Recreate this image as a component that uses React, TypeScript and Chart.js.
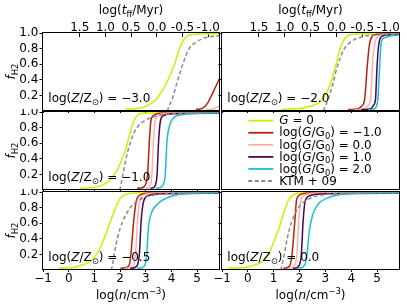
import React, { useEffect, useRef } from 'react';
import { Chart, registerables } from 'chart.js';
Chart.register(...registerables);

const FAMILY = '"DejaVu Sans", "Liberation Sans", sans-serif';
const FS = 12;

const X_MIN = -1;
const X_MAX = 5.85;
const Y_MIN = 0.015;
const Y_MAX = 1.0;
const X_TICKS = [-1, 0, 1, 2, 3, 4, 5];
const Y_TICKS = [0.2, 0.4, 0.6, 0.8, 1.0];
const TFF_TICK_LABELS = ['1.5', '1.0', '0.5', '0.0', '-0.5', '-1.0'];
const TFF_TICK_LOGN = [0.43, 1.43, 2.43, 3.43, 4.43, 5.43];

const SERIES_NAMES = ['G = 0', 'log(G/G0) = −1.0', 'log(G/G0) = 0.0', 'log(G/G0) = 1.0', 'log(G/G0) = 2.0', 'KTM + 09'];
const SERIES_COLORS = ['#cdf000', '#b0260b', '#ffb0ac', '#420a50', '#1cbfd9', '#8a8a8a'];
const LOG_G_VALUES = ['−1.0', '0.0', '1.0', '2.0'];
const Z_VALUES = ['−3.0', '−2.0', '−1.0', '−0.5', '0.0'];

type Pt = [number, number];

// log(Z/Zsun) = -3.0
const ZM3_G0: Pt[] = [[2.2, 0.025], [2.6, 0.032], [2.95, 0.055], [3.2, 0.095], [3.4, 0.15], [3.62, 0.25], [3.82, 0.37], [4.0, 0.5], [4.12, 0.6], [4.28, 0.77], [4.45, 0.9], [4.6, 0.955], [4.8, 0.982], [5.1, 0.988], [5.95, 0.99]];
const ZM3_GM1: Pt[] = [[4.95, 0.022], [5.12, 0.028], [5.27, 0.05], [5.42, 0.11], [5.56, 0.2], [5.7, 0.3], [5.85, 0.4], [5.95, 0.47]];
const ZM3_G00: Pt[] = [[5.35, 0.02], [5.55, 0.025], [5.72, 0.04], [5.85, 0.065], [5.95, 0.085]];
const ZM3_G10: Pt[] = [];
const ZM3_G20: Pt[] = [];
const ZM3_KTM: Pt[] = [[3.84, 0.0], [3.9, 0.06], [4.02, 0.145], [4.21, 0.36], [4.41, 0.57], [4.67, 0.79], [4.99, 0.89], [5.38, 0.945], [5.95, 0.968]];

// log(Z/Zsun) = -2.0
const ZM2_G0: Pt[] = [[1.3, 0.025], [1.8, 0.03], [2.2, 0.045], [2.5, 0.07], [2.72, 0.1], [2.9, 0.16], [3.04, 0.23], [3.21, 0.36], [3.39, 0.57], [3.56, 0.79], [3.72, 0.91], [3.85, 0.96], [4.0, 0.982], [4.3, 0.988], [5.95, 0.99]];
const ZM2_GM1: Pt[] = [[3.88, 0.022], [4.15, 0.026], [4.3, 0.035], [4.42, 0.07], [4.52, 0.15], [4.62, 0.57], [4.71, 0.86], [4.82, 0.96], [4.98, 0.982], [5.3, 0.988], [5.95, 0.99]];
const ZM2_G00: Pt[] = [[4.13, 0.022], [4.4, 0.026], [4.58, 0.04], [4.66, 0.075], [4.75, 0.15], [4.82, 0.57], [4.91, 0.86], [5.03, 0.96], [5.2, 0.98], [5.95, 0.988]];
const ZM2_G10: Pt[] = [[4.39, 0.022], [4.65, 0.026], [4.79, 0.04], [4.86, 0.075], [4.94, 0.15], [5.0, 0.57], [5.07, 0.86], [5.2, 0.96], [5.45, 0.978], [5.95, 0.983]];
const ZM2_G20: Pt[] = [[4.65, 0.022], [4.85, 0.026], [4.94, 0.04], [4.99, 0.075], [5.03, 0.15], [5.1, 0.57], [5.16, 0.88], [5.3, 0.94], [5.55, 0.965], [5.95, 0.975]];
const ZM2_KTM: Pt[] = [[2.93, 0.0], [2.98, 0.05], [3.1, 0.145], [3.3, 0.36], [3.46, 0.57], [3.72, 0.79], [4.0, 0.89], [4.39, 0.95], [4.91, 0.975], [5.95, 0.985]];

// log(Z/Zsun) = -1.0
const ZM1_G0: Pt[] = [[0.45, 0.025], [0.8, 0.03], [1.1, 0.042], [1.35, 0.07], [1.55, 0.115], [1.75, 0.19], [1.94, 0.29], [2.08, 0.4], [2.2, 0.5], [2.37, 0.71], [2.53, 0.885], [2.65, 0.95], [2.79, 0.98], [3.1, 0.988], [5.95, 0.99]];
const ZM1_GM1: Pt[] = [[2.66, 0.025], [2.85, 0.03], [2.95, 0.05], [3.0, 0.08], [3.07, 0.2], [3.14, 0.63], [3.2, 0.885], [3.3, 0.955], [3.45, 0.978], [3.65, 0.988], [5.95, 0.99]];
const ZM1_G00: Pt[] = [[2.95, 0.025], [3.08, 0.03], [3.15, 0.05], [3.19, 0.08], [3.24, 0.2], [3.3, 0.63], [3.37, 0.885], [3.48, 0.955], [3.65, 0.978], [3.9, 0.986], [5.95, 0.99]];
const ZM1_G10: Pt[] = [[3.18, 0.025], [3.3, 0.03], [3.35, 0.05], [3.39, 0.08], [3.44, 0.2], [3.5, 0.63], [3.57, 0.885], [3.69, 0.955], [4.08, 0.978], [5.95, 0.985]];
const ZM1_G20: Pt[] = [[3.4, 0.025], [3.55, 0.03], [3.63, 0.05], [3.69, 0.08], [3.76, 0.2], [3.82, 0.6], [3.93, 0.83], [4.08, 0.925], [4.47, 0.968], [5.12, 0.985], [5.95, 0.99]];
const ZM1_KTM: Pt[] = [[1.99, 0.0], [2.04, 0.08], [2.11, 0.2], [2.24, 0.415], [2.42, 0.63], [2.66, 0.8], [3.05, 0.905], [3.44, 0.95], [3.95, 0.975], [5.95, 0.988]];

// log(Z/Zsun) = -0.5
const ZM05_G0: Pt[] = [[-0.39, 0.025], [0.0, 0.03], [0.32, 0.045], [0.6, 0.075], [0.84, 0.115], [1.05, 0.19], [1.23, 0.29], [1.37, 0.4], [1.49, 0.5], [1.72, 0.71], [1.94, 0.885], [2.1, 0.95], [2.33, 0.98], [2.6, 0.988], [5.95, 0.99]];
const ZM05_GM1: Pt[] = [[2.01, 0.025], [2.2, 0.03], [2.32, 0.05], [2.37, 0.08], [2.42, 0.2], [2.53, 0.63], [2.63, 0.885], [2.75, 0.955], [2.95, 0.98], [3.2, 0.988], [5.95, 0.99]];
const ZM05_G00: Pt[] = [[2.2, 0.025], [2.4, 0.03], [2.5, 0.05], [2.55, 0.08], [2.6, 0.2], [2.68, 0.63], [2.76, 0.885], [2.88, 0.955], [3.1, 0.978], [3.4, 0.986], [5.95, 0.99]];
const ZM05_G10: Pt[] = [[2.4, 0.025], [2.56, 0.03], [2.64, 0.05], [2.69, 0.08], [2.75, 0.2], [2.82, 0.63], [2.92, 0.885], [3.11, 0.955], [3.69, 0.978], [5.95, 0.985]];
const ZM05_G20: Pt[] = [[2.66, 0.025], [2.85, 0.03], [2.93, 0.05], [2.98, 0.08], [3.04, 0.2], [3.09, 0.5], [3.2, 0.71], [3.44, 0.84], [3.82, 0.925], [4.34, 0.97], [4.99, 0.986], [5.95, 0.99]];
const ZM05_KTM: Pt[] = [[1.66, 0.0], [1.71, 0.08], [1.77, 0.2], [1.9, 0.415], [2.11, 0.63], [2.4, 0.8], [2.79, 0.905], [3.3, 0.96], [4.0, 0.98], [5.95, 0.988]];

// log(Z/Zsun) = 0.0
const Z00_G0: Pt[] = [[-0.76, 0.025], [-0.3, 0.03], [0.02, 0.045], [0.35, 0.075], [0.59, 0.115], [0.78, 0.19], [0.92, 0.29], [1.05, 0.4], [1.17, 0.5], [1.37, 0.71], [1.56, 0.885], [1.7, 0.95], [1.88, 0.98], [2.2, 0.988], [5.95, 0.99]];
const Z00_GM1: Pt[] = [[1.37, 0.025], [1.52, 0.03], [1.6, 0.05], [1.65, 0.08], [1.71, 0.2], [1.82, 0.63], [1.88, 0.885], [1.98, 0.955], [2.15, 0.98], [2.4, 0.988], [5.95, 0.99]];
const Z00_G00: Pt[] = [[1.56, 0.025], [1.7, 0.03], [1.78, 0.05], [1.84, 0.08], [1.9, 0.2], [1.97, 0.63], [2.05, 0.885], [2.17, 0.955], [2.4, 0.978], [2.7, 0.986], [5.95, 0.99]];
const Z00_G10: Pt[] = [[1.75, 0.025], [1.9, 0.03], [1.96, 0.05], [2.01, 0.08], [2.07, 0.2], [2.14, 0.63], [2.22, 0.885], [2.42, 0.955], [3.1, 0.978], [5.95, 0.985]];
const Z00_G20: Pt[] = [[1.95, 0.025], [2.08, 0.03], [2.16, 0.05], [2.22, 0.08], [2.29, 0.2], [2.38, 0.5], [2.51, 0.71], [2.71, 0.84], [3.09, 0.925], [3.61, 0.97], [4.38, 0.986], [5.95, 0.99]];
const Z00_KTM: Pt[] = [[1.28, 0.0], [1.33, 0.08], [1.41, 0.2], [1.53, 0.415], [1.71, 0.63], [1.95, 0.8], [2.33, 0.905], [2.85, 0.96], [3.75, 0.982], [5.95, 0.988]];

type PanelSpec = { z?: string; row: number; col: number; series?: Pt[][]; legend?: boolean };
const PANELS: PanelSpec[] = [
  { z: Z_VALUES[0], row: 0, col: 0, series: [ZM3_G0, ZM3_GM1, ZM3_G00, ZM3_G10, ZM3_G20, ZM3_KTM] },
  { z: Z_VALUES[1], row: 0, col: 1, series: [ZM2_G0, ZM2_GM1, ZM2_G00, ZM2_G10, ZM2_G20, ZM2_KTM] },
  { z: Z_VALUES[2], row: 1, col: 0, series: [ZM1_G0, ZM1_GM1, ZM1_G00, ZM1_G10, ZM1_G20, ZM1_KTM] },
  { row: 1, col: 1, legend: true },
  { z: Z_VALUES[3], row: 2, col: 0, series: [ZM05_G0, ZM05_GM1, ZM05_G00, ZM05_G10, ZM05_G20, ZM05_KTM] },
  { z: Z_VALUES[4], row: 2, col: 1, series: [Z00_G0, Z00_GM1, Z00_G00, Z00_G10, Z00_G20, Z00_KTM] },
];

const COLS = [
  { left: 0, width: 221, axisW: 43, padR: 2 },
  { left: 208, width: 199, axisW: 14, padR: 8 },
];
const ROWS = [
  { top: 0, height: 113, padT: 0, topAxisH: 33, bottomAxisH: 3 },
  { top: 109, height: 83, padT: 3, topAxisH: 0, bottomAxisH: 3 },
  { top: 189, height: 116, padT: 3, topAxisH: 0, bottomAxisH: 36 },
];

type Seg = { t: string; i?: boolean; b?: boolean; p?: boolean };
function segFont(s: Seg, size: number) {
  const sz = s.b || s.p ? size * 0.7 : size;
  return `${s.i ? 'italic ' : ''}${sz}px ${FAMILY}`;
}
function richWidth(ctx: CanvasRenderingContext2D, segs: Seg[], size: number) {
  let w = 0;
  for (const s of segs) {
    ctx.font = segFont(s, size);
    w += ctx.measureText(s.t).width;
  }
  return w;
}
function drawRich(ctx: CanvasRenderingContext2D, segs: Seg[], x: number, yMid: number, size: number, align: 'left' | 'center') {
  const w = richWidth(ctx, segs, size);
  let cx = align === 'center' ? x - w / 2 : x;
  const base = yMid + 0.36 * size;
  ctx.textBaseline = 'alphabetic';
  ctx.textAlign = 'left';
  ctx.fillStyle = '#000';
  for (const s of segs) {
    ctx.font = segFont(s, size);
    const dy = s.b ? 0.24 * size : s.p ? -0.42 * size : 0;
    ctx.fillText(s.t, cx, base + dy);
    cx += ctx.measureText(s.t).width;
  }
}

const LEGEND_SEGS: Seg[][] = [
  [{ t: 'G', i: true }, { t: ' = 0' }],
  ...LOG_G_VALUES.map((v) => [{ t: 'log(' }, { t: 'G', i: true }, { t: '/G' }, { t: '0', b: true }, { t: ') = ' + v }] as Seg[]),
  [{ t: 'KTM + 09' }],
];

function makeDecor(spec: PanelSpec) {
  return {
    id: 'decor',
    afterDraw(chart: any) {
      const ctx: CanvasRenderingContext2D = chart.ctx;
      const a = chart.chartArea;
      ctx.save();
      ctx.strokeStyle = '#000';
      ctx.lineWidth = 1;
      ctx.setLineDash([]);
      ctx.strokeRect(a.left - 0.5, a.top - 0.5, a.right - a.left + 1, a.bottom - a.top + 1);
      if (spec.legend) {
        for (let i = 0; i < LEGEND_SEGS.length; i++) {
          const y = a.top + 8.7 + i * 12.06;
          ctx.strokeStyle = SERIES_COLORS[i];
          ctx.lineWidth = 1.8;
          ctx.setLineDash(i === 5 ? [4, 2.5] : []);
          ctx.beginPath();
          ctx.moveTo(a.left + 26.3, y);
          ctx.lineTo(a.left + 51.3, y);
          ctx.stroke();
          ctx.setLineDash([]);
          drawRich(ctx, LEGEND_SEGS[i], a.left + 57.3, y - 0.6, FS, 'left');
        }
      } else {
        drawRich(
          ctx,
          [{ t: 'log(' }, { t: 'Z', i: true }, { t: '/Z' }, { t: '⊙', b: true }, { t: ') = ' + spec.z }],
          a.left + 5.3,
          a.bottom - 12.5,
          FS,
          'left'
        );
        const cxm = (a.left + a.right) / 2;
        if (spec.row === 0) {
          drawRich(ctx, [{ t: 'log(' }, { t: 't', i: true }, { t: 'ff', b: true }, { t: '/Myr)' }], cxm, 10, FS, 'center');
        }
        if (spec.row === 2) {
          drawRich(ctx, [{ t: 'log(' }, { t: 'n', i: true }, { t: '/cm' }, { t: '−3', p: true }, { t: ')' }], cxm, 106, FS, 'center');
        }
        if (spec.col === 0) {
          ctx.save();
          ctx.translate(11, (a.top + a.bottom) / 2);
          ctx.rotate(-Math.PI / 2);
          drawRich(ctx, [{ t: 'f', i: true }, { t: 'H2', b: true }], 0, 0, FS, 'center');
          ctx.restore();
        }
      }
      ctx.restore();
    },
  };
}

function buildConfig(spec: PanelSpec): any {
  const col = COLS[spec.col];
  const row = ROWS[spec.row];
  const font = { family: FAMILY, size: FS };
  if (spec.legend) {
    return {
      type: 'line',
      data: { datasets: [] },
      options: {
        animation: false,
        responsive: false,
        devicePixelRatio: 1,
        events: [],
        layout: { padding: { left: col.axisW, right: col.padR, top: row.padT, bottom: row.bottomAxisH } },
        plugins: { legend: { display: false }, tooltip: { enabled: false } },
        scales: {
          x: { type: 'linear', display: false, min: X_MIN, max: X_MAX },
          y: { type: 'linear', display: false, min: Y_MIN, max: Y_MAX },
        },
      },
      plugins: [makeDecor(spec)],
    };
  }
  const series = spec.series || [];
  const datasets = series
    .map((pts, i) => ({
      label: SERIES_NAMES[i],
      data: pts.map(([x, y]) => ({ x, y })),
      borderColor: SERIES_COLORS[i],
      backgroundColor: SERIES_COLORS[i],
      borderWidth: 1.5,
      borderDash: i === 5 ? [4, 2.5] : [],
      pointRadius: 0,
      fill: false,
      cubicInterpolationMode: 'monotone',
      order: 10 - i,
    }))
    .filter((d) => d.data.length > 0);

  const scales: any = {
    x: {
      type: 'linear',
      position: 'bottom',
      min: X_MIN,
      max: X_MAX,
      afterBuildTicks: (s: any) => {
        s.ticks = X_TICKS.map((v) => ({ value: v }));
      },
      ticks: {
        display: spec.row === 2,
        font,
        color: '#000',
        padding: 0,
        autoSkip: false,
        maxRotation: 0,
        callback: (v: number) => (v < 0 ? '−' + Math.abs(v) : String(v)),
      },
      grid: { drawOnChartArea: false, drawTicks: true, tickLength: 3, color: '#000', lineWidth: 1 },
      border: { display: false },
      afterFit: (s: any) => {
        s.height = row.bottomAxisH;
        s.paddingLeft = 0;
        s.paddingRight = 0;
      },
    },
    y: {
      type: 'linear',
      position: 'left',
      min: Y_MIN,
      max: Y_MAX,
      afterBuildTicks: (s: any) => {
        s.ticks = Y_TICKS.map((v) => ({ value: v }));
      },
      ticks: {
        display: spec.col === 0,
        font,
        color: '#000',
        padding: 1.2,
        autoSkip: false,
        callback: (v: number) => v.toFixed(1),
      },
      grid: { drawOnChartArea: false, drawTicks: true, tickLength: 3.5, color: '#000', lineWidth: 1 },
      border: { display: false },
      afterFit: (s: any) => {
        s.width = col.axisW;
        s.paddingTop = 0;
        s.paddingBottom = 0;
      },
    },
  };
  if (spec.row === 0) {
    scales.xTop = {
      type: 'linear',
      position: 'top',
      min: X_MIN,
      max: X_MAX,
      afterBuildTicks: (s: any) => {
        s.ticks = TFF_TICK_LOGN.map((v) => ({ value: v }));
      },
      ticks: {
        display: true,
        font,
        color: '#000',
        padding: 1.5,
        autoSkip: false,
        maxRotation: 0,
        callback: (_v: number, i: number) => TFF_TICK_LABELS[i],
      },
      grid: { drawOnChartArea: false, drawTicks: true, tickLength: -4, color: '#000', lineWidth: 1 },
      border: { display: false },
      afterFit: (s: any) => {
        s.height = row.topAxisH;
        s.paddingLeft = 0;
        s.paddingRight = 0;
      },
    };
  }
  return {
    type: 'line',
    data: { datasets },
    options: {
      animation: false,
      responsive: false,
      devicePixelRatio: 1,
      events: [],
      layout: { padding: { left: 0, right: col.padR, top: row.padT, bottom: 0 } },
      plugins: { legend: { display: false }, tooltip: { enabled: false } },
      scales,
    },
    plugins: [makeDecor(spec)],
  };
}

function Panel({ spec }: { spec: PanelSpec }) {
  const ref = useRef<HTMLCanvasElement>(null);
  const col = COLS[spec.col];
  const row = ROWS[spec.row];
  useEffect(() => {
    const chart = new Chart(ref.current as HTMLCanvasElement, buildConfig(spec));
    return () => chart.destroy();
  }, []);
  return (
    <canvas
      ref={ref}
      width={col.width}
      height={row.height}
      style={{ position: 'absolute', left: col.left, top: row.top, width: col.width, height: row.height }}
    />
  );
}

export default function App() {
  return (
    <div style={{ position: 'absolute', left: 0, top: 0, width: 407, height: 305, background: '#fff', overflow: 'hidden' }}>
      {PANELS.map((p, i) => (
        <Panel key={i} spec={p} />
      ))}
    </div>
  );
}
